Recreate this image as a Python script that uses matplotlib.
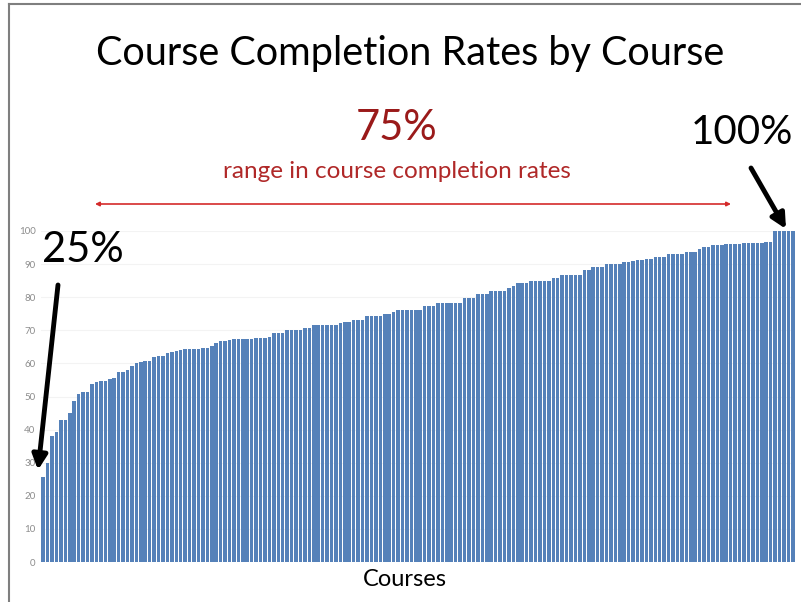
import matplotlib.pyplot as plt
from matplotlib.lines import Line2D

# completion rate (%) for each course, sorted ascending
rates = [
    25.6, 29.8, 38.0, 39.4, 43.0, 43.0, 45.0, 48.7, 50.8, 51.3,
    51.3, 53.8, 54.5, 54.8, 54.8, 55.2, 55.5, 57.5, 57.5, 58.0,
    59.3, 60.0, 60.5, 60.7, 60.7, 62.0, 62.2, 62.2, 63.2, 63.4,
    63.7, 64.0, 64.2, 64.3, 64.5, 64.5,
    64.7, 64.7, 65.3, 66.3, 66.8, 66.8, 67.2, 67.3, 67.4, 67.4,
    67.5, 67.5, 67.6, 67.6, 67.8,
    68.1, 69.1, 69.1, 69.1, 70.1, 70.1, 70.1, 70.1, 70.6, 70.6,
    71.6, 71.6, 71.6, 71.6, 71.6, 71.6, 72.1, 72.6, 72.6, 73.1,
    73.1, 73.1, 74.3, 74.3, 74.3, 74.3, 74.9, 74.9,
    75.5, 76.1, 76.1, 76.1, 76.1, 76.1, 76.1, 77.3, 77.3, 77.3,
    78.3, 78.3, 78.3, 78.3, 78.3, 78.3, 79.7, 79.7, 79.7, 81.0,
    81.0, 81.0, 82.0, 82.0, 82.0, 82.0, 82.7,
    83.5, 84.2, 84.2, 84.2, 84.9, 84.9, 84.9, 84.9, 84.9, 85.7,
    85.7, 86.7, 86.7, 86.7, 86.7, 86.7, 88.2, 88.2, 89.2, 89.2,
    89.2, 90.0, 90.0, 90.0, 90.0, 90.7, 90.7,
    90.8, 91.2, 91.2, 91.5, 91.5, 92.0, 92.0, 92.0, 93.0, 93.0,
    93.0, 93.0, 93.8, 93.8, 93.8, 94.5,
    95.3, 95.3, 95.8, 95.8, 95.8, 96.1, 96.1, 96.1, 96.1, 96.3,
    96.3, 96.3, 96.5, 96.5, 96.8, 96.8,
    100, 100, 100, 100, 100,
]
yticks = list(range(0, 101, 10))

plt.rcParams['font.family'] = ['Lato', 'DejaVu Sans']

W, H = 801, 602
fig = plt.figure(figsize=(W / 100, H / 100), dpi=100)


def fx(px):
    return px / W


def fy(py):
    return 1 - py / H


ax = fig.add_axes([fx(41), fy(562), fx(795) - fx(41), fy(231) - fy(562)])
ax.bar(range(len(rates)), rates, width=0.8, color='#5581b9')
ax.set_xlim(-0.5, len(rates) - 0.5)
ax.set_ylim(0, 100)
ax.set_yticks(yticks)
ax.tick_params(axis='y', length=0, labelsize=7, labelcolor='#8c8c8c', pad=4)
ax.set_xticks([])
for s in ax.spines.values():
    s.set_visible(False)
ax.yaxis.grid(True, color='#f3f3f3', lw=0.8)
ax.set_axisbelow(True)

# slide border
fig.add_artist(Line2D([fx(9), fx(9)], [0, fy(4)], color='#7f7f7f', lw=1.5))
fig.add_artist(Line2D([fx(9), 1], [fy(4), fy(4)], color='#7f7f7f', lw=1.5))

fig.text(fx(410), fy(54), 'Course Completion Rates by Course',
         ha='center', va='center', fontsize=28.5, color='black')
fig.text(fx(397), fy(128), '75%', ha='center', va='center',
         fontsize=30, color='#9a1a1a')
fig.text(fx(397), fy(172), 'range in course completion rates',
         ha='center', va='center', fontsize=17.5, color='#b02828')
fig.text(fx(742), fy(133), '100%', ha='center', va='center',
         fontsize=29, color='black')
fig.text(fx(83), fy(250), '25%', ha='center', va='center',
         fontsize=30, color='black')
fig.text(fx(405), fy(580), 'Courses', ha='center', va='center',
         fontsize=17, color='black')

# range arrow
ax.annotate('', xy=(fx(95), fy(204)), xytext=(fx(731), fy(204)),
            xycoords='figure fraction', textcoords='figure fraction',
            arrowprops=dict(arrowstyle='<|-|>', color='#d42a2a', lw=1.2,
                            mutation_scale=6, shrinkA=0, shrinkB=0))

# pointer arrows
ax.annotate('', xy=(fx(786), fy(229)), xytext=(fx(751), fy(168)),
            xycoords='figure fraction', textcoords='figure fraction',
            arrowprops=dict(arrowstyle='-|>', color='black', lw=3.5,
                            mutation_scale=22, shrinkA=0, shrinkB=0))
ax.annotate('', xy=(fx(38), fy(470)), xytext=(fx(58), fy(285)),
            xycoords='figure fraction', textcoords='figure fraction',
            arrowprops=dict(arrowstyle='-|>', color='black', lw=3.5,
                            mutation_scale=22, shrinkA=0, shrinkB=0))

fig.savefig('out.png', dpi=100)
